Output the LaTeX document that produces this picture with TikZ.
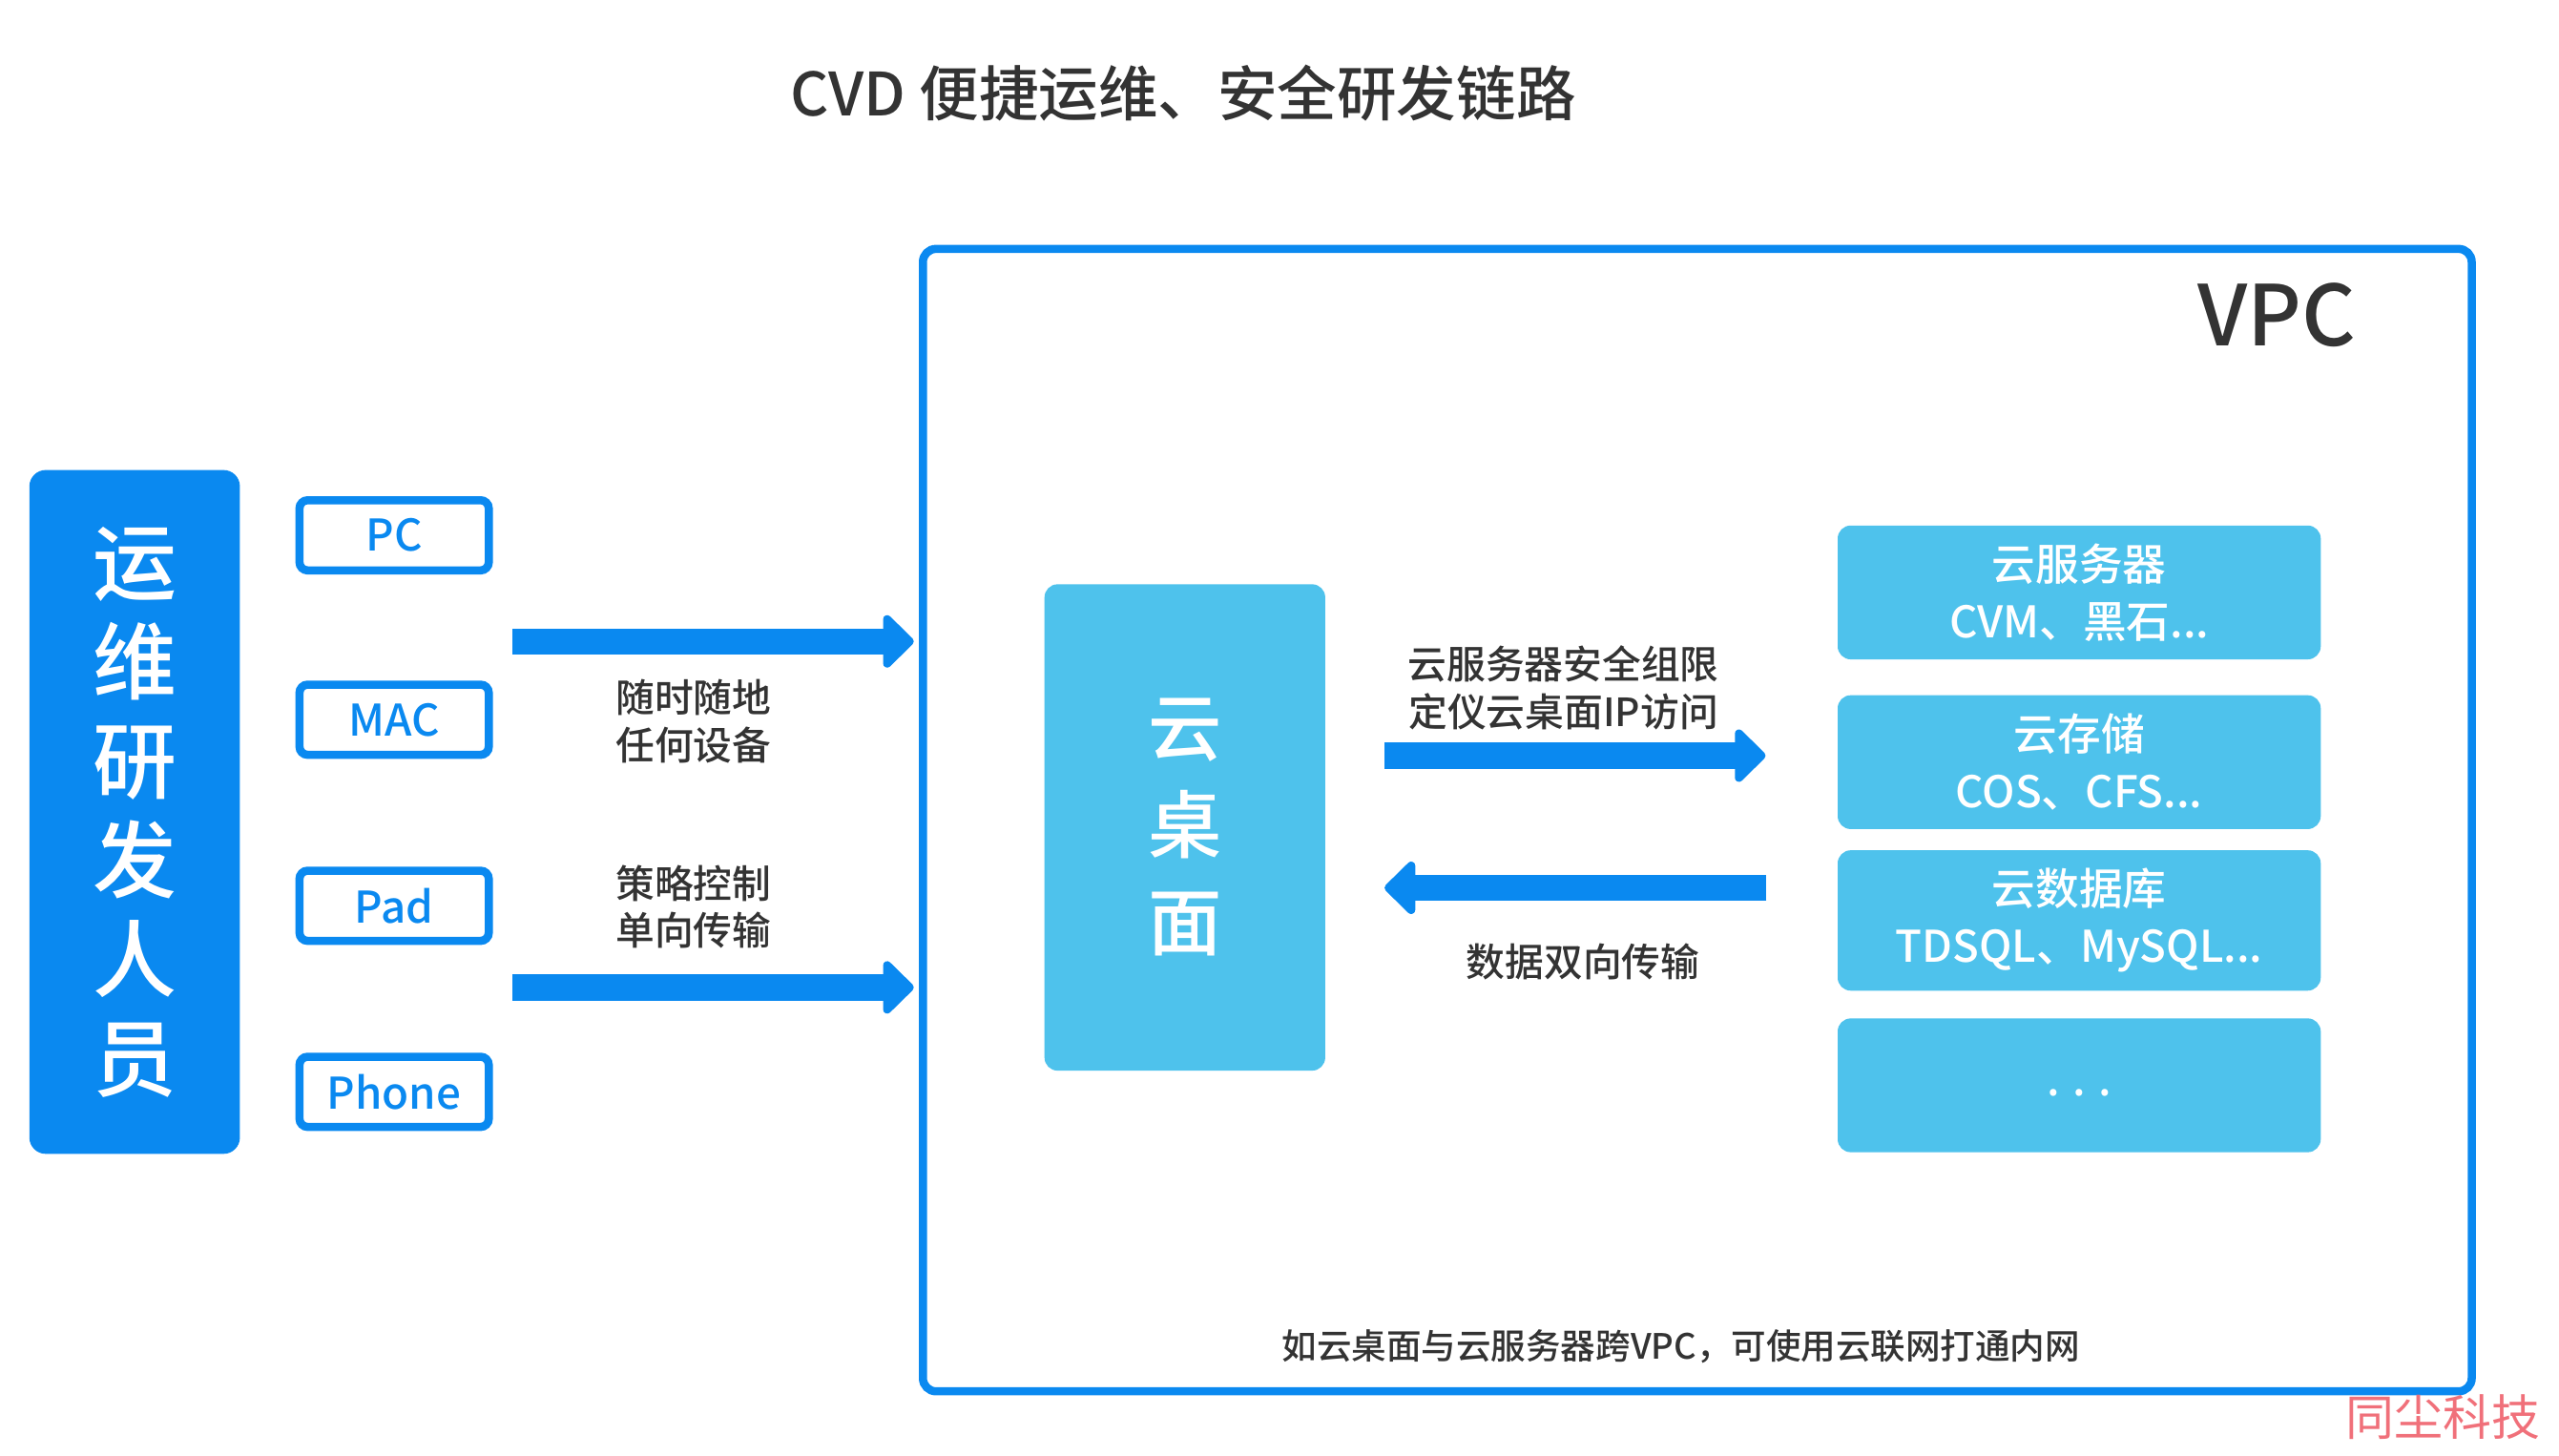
\documentclass[tikz,border=0pt]{standalone}
\usepackage{fontspec}
\setmainfont{Noto Sans CJK SC}
\newfontfamily\medfont{Noto Sans CJK SC Medium}
\usepackage{tikz}
\usetikzlibrary{arrows.meta}
\usetikzlibrary{positioning}

\newlength{\px}
\setlength{\px}{0.17105mm}

\definecolor{vblue}{RGB}{10,137,240}
\definecolor{lblue}{RGB}{78,194,236}
\definecolor{ink}{RGB}{51,51,51}
\definecolor{sealred}{RGB}{240,112,122}

\tikzset{
	devbox/.style={draw=vblue, line width=5\px, fill=white, rounded corners=5\px, minimum width=116\px, minimum height=43\px, inner sep=0pt, text=vblue, font=\medfont\fontsize{13}{15}\selectfont},
	cloudbox/.style={fill=lblue, rounded corners=8\px, minimum width=296\px, inner sep=0pt, text=white, align=center, font=\medfont\fontsize{13}{17}\selectfont},
	bigarrow/.style={draw=vblue, line width=7.8pt, -{Triangle[length=9.7pt, width=18.4pt, round]}},
	note/.style={text=ink, align=center, font=\medfont\fontsize{11.6}{14}\selectfont},
}

\begin{document}
\begin{tikzpicture}[x=0.17105mm, y=-0.17105mm]
	\useasboundingbox (0,0) rectangle (1568,892);

	\node[text=ink, font=\medfont\fontsize{17.8}{20}\selectfont] (title) at (725,57) {CVD 便捷运维、安全研发链路};

	% users and their devices
	\node[fill=vblue, rounded corners=10\px, minimum width=129\px, minimum height=419\px, text=white, align=center, font=\medfont\fontsize{25}{29.6}\selectfont] (staff) at (82.5,497.5) {运\\维\\研\\发\\人\\员};
	\node[devbox] (pc) at (241.5,328) {PC};
	\node[devbox] (mac) at (241.5,441) {MAC};
	\node[devbox] (pad) at (241.5,555) {Pad};
	\node[devbox] (phone) at (241.5,669) {Phone};

	% the VPC and what runs in it
	\node[draw=vblue, line width=5\px, rounded corners=8\px, minimum width=949\px, minimum height=700\px] (vpc) at (1040,502.5) {};
	\node[text=ink, font=\medfont\fontsize{25}{30}\selectfont] (vpctag) at (1395,193) {VPC};
	\node[fill=lblue, rounded corners=8\px, minimum width=172\px, minimum height=298\px, text=white, align=center, font=\medfont\fontsize{22}{29}\selectfont] (desk) at (726,507) {云\\桌\\面};
	\node[cloudbox, minimum height=82\px] (srv) at (1274,363) {云服务器\\CVM、黑石...};
	\node[cloudbox, minimum height=82\px] (store) at (1274,467) {云存储\\COS、CFS...};
	\node[cloudbox, minimum height=86\px] (db) at (1274,564) {云数据库\\TDSQL、MySQL...};
	\node[cloudbox, minimum height=82\px] (more) at (1274,665) {\raisebox{0pt}[0pt][0pt]{\raisebox{-3pt}{. . .}}};

	% links
	\coordinate (in1) at (314,393);
	\coordinate (in2) at (314,605);
	\coordinate (up) at (0,463);
	\coordinate (down) at (0,544);
	\draw[bigarrow, shorten >=1.5pt] (in1) -- (vpc.west |- in1);
	\draw[bigarrow, shorten >=1.5pt] (in2) -- (vpc.west |- in2);
	\draw[bigarrow, shorten <=17.5pt, shorten >=21.3pt] (desk.east |- up) -- (store.west |- up);
	\draw[bigarrow, shorten <=21pt, shorten >=17.5pt] (db.west |- down) -- (desk.east |- down);

	\node[note] (anytime) at (425,442) {随时随地\\任何设备};
	\node[note] (policy) at (425,555.5) {策略控制\\单向传输};
	\node[note] (sgrule) at (958,421.5) {云服务器安全组限\\定仪云桌面IP访问};
	\node[note] (twoway) at (970,589) {数据双向传输};
	\node[text=ink, font=\medfont\fontsize{10.4}{12}\selectfont] (hint) at (1030,825) {如云桌面与云服务器跨VPC，可使用云联网打通内网};
	\node[text=sealred, font=\fontsize{14.5}{16}\selectfont] (stamp) at (1497,868) {同尘科技};
\end{tikzpicture}
\end{document}
